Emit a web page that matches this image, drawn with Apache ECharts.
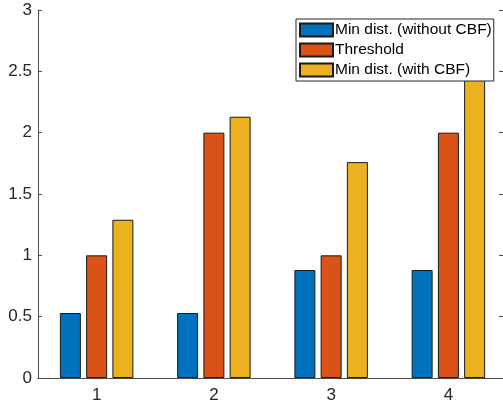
<!DOCTYPE html>
<html><head><meta charset="utf-8">
<script src="https://cdn.jsdelivr.net/npm/echarts@6/dist/echarts.min.js"></script>
<style>html,body{margin:0;padding:0;background:#fff}#c{width:503px;height:407px}</style>
</head><body><div id="c"></div>
<script>
const categories = ['1', '2', '3', '4'];
const minDistWithout = [0.53, 0.53, 0.88, 0.88];
const threshold = [1.0, 2.0, 1.0, 2.0];
const minDistWith = [1.29, 2.13, 1.76, 2.6];
const seriesNames = ['Min dist. (without CBF)', 'Threshold', 'Min dist. (with CBF)'];
const colors = ['#0072BD', '#D95319', '#EDB120'];

const font = 'Helvetica, Arial, "Liberation Sans", sans-serif';
const axisColor = '#4d4d4d';
const chart = echarts.init(document.getElementById('c'));
const mk = (name, data, color) => ({
  name, type: 'bar', data, barWidth: 21, barGap: '25%', z: 2,
  itemStyle: { color, borderColor: '#1a1a1a', borderWidth: 1 }
});
chart.setOption({
  animation: false,
  color: colors,
  grid: { left: 38, width: 469, top: 10, bottom: 29, outerBoundsMode: 'none', containLabel: false },
  legend: {
    orient: 'vertical', left: 296, top: 19, z: 20,
    icon: 'rect',
    itemWidth: 33, itemHeight: 13, itemGap: 2,
    padding: [2, 2, 2, 3],
    backgroundColor: '#fff', borderColor: '#262626', borderWidth: 1,
    textStyle: { fontFamily: font, fontSize: 15.5, lineHeight: 18, color: '#000', padding: [0, 0, 0, -3] },
    data: seriesNames
  },
  xAxis: [{
    type: 'category', data: categories,
    axisLine: { lineStyle: { color: axisColor } },
    axisTick: { inside: true, alignWithLabel: true, length: 4, lineStyle: { color: axisColor } },
    axisLabel: { fontFamily: font, fontSize: 17, color: '#262626', margin: 9 }
  }, {
    type: 'category', data: categories, position: 'top',
    axisLine: { lineStyle: { color: axisColor } },
    axisTick: { inside: true, alignWithLabel: true, length: 4, lineStyle: { color: axisColor } },
    axisLabel: { show: false }
  }],
  yAxis: [{
    type: 'value', min: 0, max: 3, interval: 0.5,
    axisLine: { show: true, lineStyle: { color: axisColor } },
    axisTick: { show: true, inside: true, length: 4, lineStyle: { color: axisColor } },
    axisLabel: { fontFamily: font, fontSize: 17, color: '#262626', margin: 6 },
    splitLine: { show: false }
  }, {
    type: 'value', min: 0, max: 3, interval: 0.5, position: 'right',
    axisLine: { show: true, lineStyle: { color: axisColor } },
    axisTick: { show: true, inside: true, length: 8, lineStyle: { color: axisColor } },
    axisLabel: { show: false },
    splitLine: { show: false }
  }],
  series: [
    mk(seriesNames[0], minDistWithout, colors[0]),
    mk(seriesNames[1], threshold, colors[1]),
    mk(seriesNames[2], minDistWith, colors[2])
  ]
});
</script></body></html>
